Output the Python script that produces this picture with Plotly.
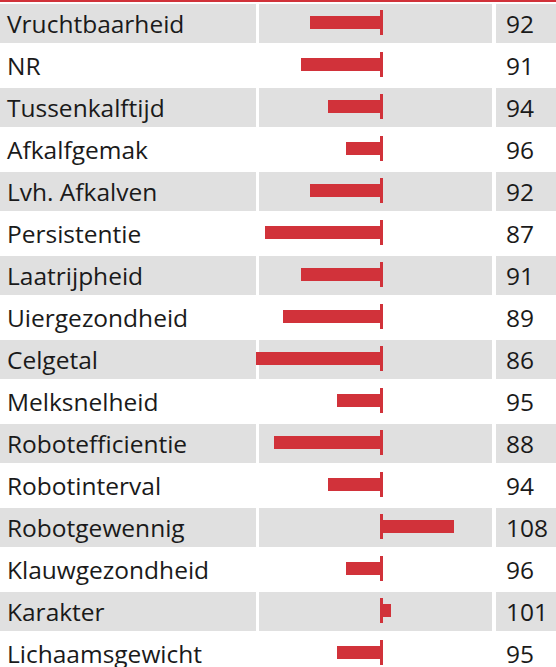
import plotly.graph_objects as go

# Fokwaarden per kenmerk (100 = gemiddelde)
kenmerken = [
    "Vruchtbaarheid", "NR", "Tussenkalftijd", "Afkalfgemak", "Lvh. Afkalven",
    "Persistentie", "Laatrijpheid", "Uiergezondheid", "Celgetal", "Melksnelheid",
    "Robotefficientie", "Robotinterval", "Robotgewennig", "Klauwgezondheid",
    "Karakter", "Lichaamsgewicht",
]
waarden = [92, 91, 94, 96, 92, 87, 91, 89, 86, 95, 88, 94, 108, 96, 101, 95]
basis = 100

W, H = 556, 667
ROW = 42            # rijhoogte in pixels
CENTER0 = 22.5      # midden van de eerste rij (px vanaf boven)
PX_PER_UNIT = 9
BASE_PX = 381.5

RED = "#d1323a"
GRAY = "#e0e0e0"
INK = "#1a1a1a"
FONT = "Open Sans"
FONT_SIZE = 24.5

x_min = basis - BASE_PX / PX_PER_UNIT
x_max = x_min + W / PX_PER_UNIT
y_top = -CENTER0 / ROW
y_bot = y_top + H / ROW

fig = go.Figure()
fig.add_trace(go.Bar(
    y=list(range(len(kenmerken))),
    x=[v - basis for v in waarden],
    base=basis,
    orientation="h",
    width=13 / ROW,
    marker=dict(color=RED, line=dict(width=0)),
    hoverinfo="skip",
))

shapes = []
columns = [(0, 256), (259, 492), (496, 556)]
for i in range(len(kenmerken)):
    if i % 2 == 0:
        for c0, c1 in columns:
            shapes.append(dict(
                type="rect", xref="paper", yref="y",
                x0=c0 / W, x1=c1 / W,
                y0=i - 18.5 / ROW, y1=i + 20.5 / ROW,
                fillcolor=GRAY, line=dict(width=0), layer="below",
            ))
    shapes.append(dict(
        type="line", xref="x", yref="y",
        x0=basis, x1=basis, y0=i - 12.5 / ROW, y1=i + 12.5 / ROW,
        line=dict(color=RED, width=3), layer="above",
    ))
# rode lijn bovenaan
shapes.append(dict(
    type="rect", xref="paper", yref="paper",
    x0=0, x1=1, y0=1 - 2 / H, y1=1,
    fillcolor=RED, line=dict(width=0),
))

annotations = []
for i, (k, v) in enumerate(zip(kenmerken, waarden)):
    annotations.append(dict(
        xref="paper", yref="y", x=5 / W, y=i, text=k, yshift=-1,
        xanchor="left", yanchor="middle", showarrow=False,
        font=dict(family=FONT, size=FONT_SIZE, color=INK),
    ))
    annotations.append(dict(
        xref="paper", yref="y", x=504 / W, y=i, text=str(v), yshift=-1,
        xanchor="left", yanchor="middle", showarrow=False,
        font=dict(family=FONT, size=FONT_SIZE, color=INK),
    ))

fig.update_layout(
    width=W, height=H,
    margin=dict(l=0, r=0, t=0, b=0),
    paper_bgcolor="white", plot_bgcolor="white",
    showlegend=False,
    shapes=shapes, annotations=annotations,
    xaxis=dict(range=[x_min, x_max], visible=False, fixedrange=True),
    yaxis=dict(range=[y_bot, y_top], visible=False, fixedrange=True),
    bargap=0,
)

fig.write_html("out.html", config={"displayModeBar": False})
